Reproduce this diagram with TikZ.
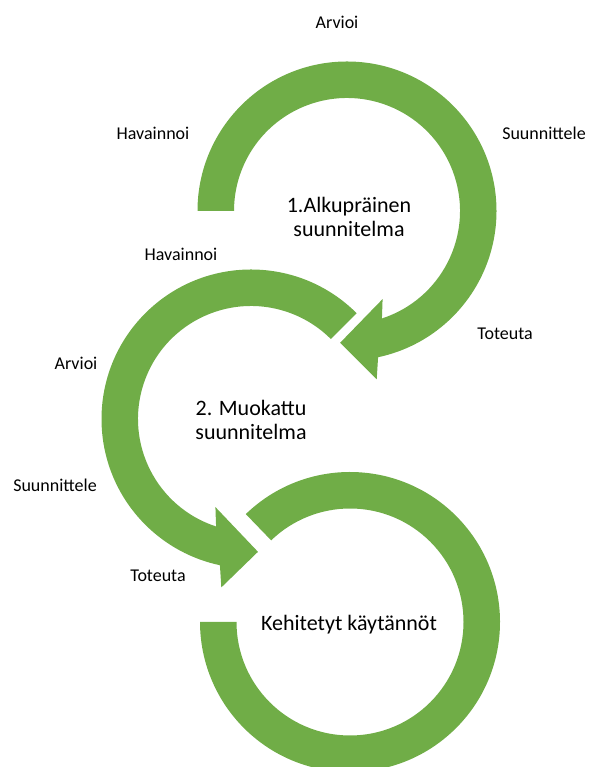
\documentclass[tikz,border=0pt]{standalone}
\usepackage{fontspec}
\setmainfont{Carlito}
\usepackage{tikz}
\usetikzlibrary{positioning}
\definecolor{loopgreen}{RGB}{112,173,71}

\begin{document}
\begin{tikzpicture}[x=1pt, y=1pt,
    steplabel/.style={font=\fontsize{18}{20}\selectfont, inner sep=0pt},
    phase/.style={font=\fontsize{22}{24}\selectfont, align=center, inner sep=0pt},
    band/.style={fill=loopgreen}]
  \useasboundingbox (0,0) rectangle (589,767);
  \clip (0,0) rectangle (589,767);
  % centres of the three loops
  \coordinate (c1) at (347,556);
  \coordinate (c2) at (251,348);
  \coordinate (c3) at (350,145);
  % loop 1, clockwise, head at the bottom
  \fill[band, shift={(c1)}] (180:149.5pt) arc[start angle=180, end angle=-78, radius=149.5pt]
    -- (-80:171pt) -- (-93:132pt) -- (-68:95pt) -- (-72:113pt)
    arc[start angle=-72, end angle=180, radius=113pt] -- cycle;
  % loop 2, anticlockwise
  \fill[band, shift={(c2)}] (45:149.5pt) arc[start angle=45, end angle=258, radius=149.5pt]
    -- (260:171pt) -- (273:133pt) -- (248:95pt) -- (252:113pt)
    arc[start angle=252, end angle=45, radius=113pt] -- cycle;
  % loop 3, no head
  \fill[band, shift={(c3)}] (134:150pt) arc[start angle=134, end angle=-180, radius=150pt]
    -- (180:113.5pt) arc[start angle=-180, end angle=134, radius=113.5pt] -- cycle;

  \node[phase] (plan1) at (349,550) {1.Alkupräinen\\suunnitelma};
  \node[phase] (plan2) at (251,347) {2. Muokattu\\suunnitelma};
  \node[phase] (result) at (349,142) {Kehitetyt käytännöt};

  \node[steplabel] (arvioi1) at (337,745) {Arvioi};
  \node[steplabel] (havainnoi1) at (153,634) {Havainnoi};
  \node[steplabel] (suunnittele1) at (544,634) {Suunnittele};
  \node[steplabel] (toteuta1) at (505,433) {Toteuta};
  \node[steplabel] (havainnoi2) at (181,513) {Havainnoi};
  \node[steplabel] (arvioi2) at (76,404) {Arvioi};
  \node[steplabel] (suunnittele2) at (55,282) {Suunnittele};
  \node[steplabel] (toteuta2) at (158,191) {Toteuta};
\end{tikzpicture}
\end{document}
